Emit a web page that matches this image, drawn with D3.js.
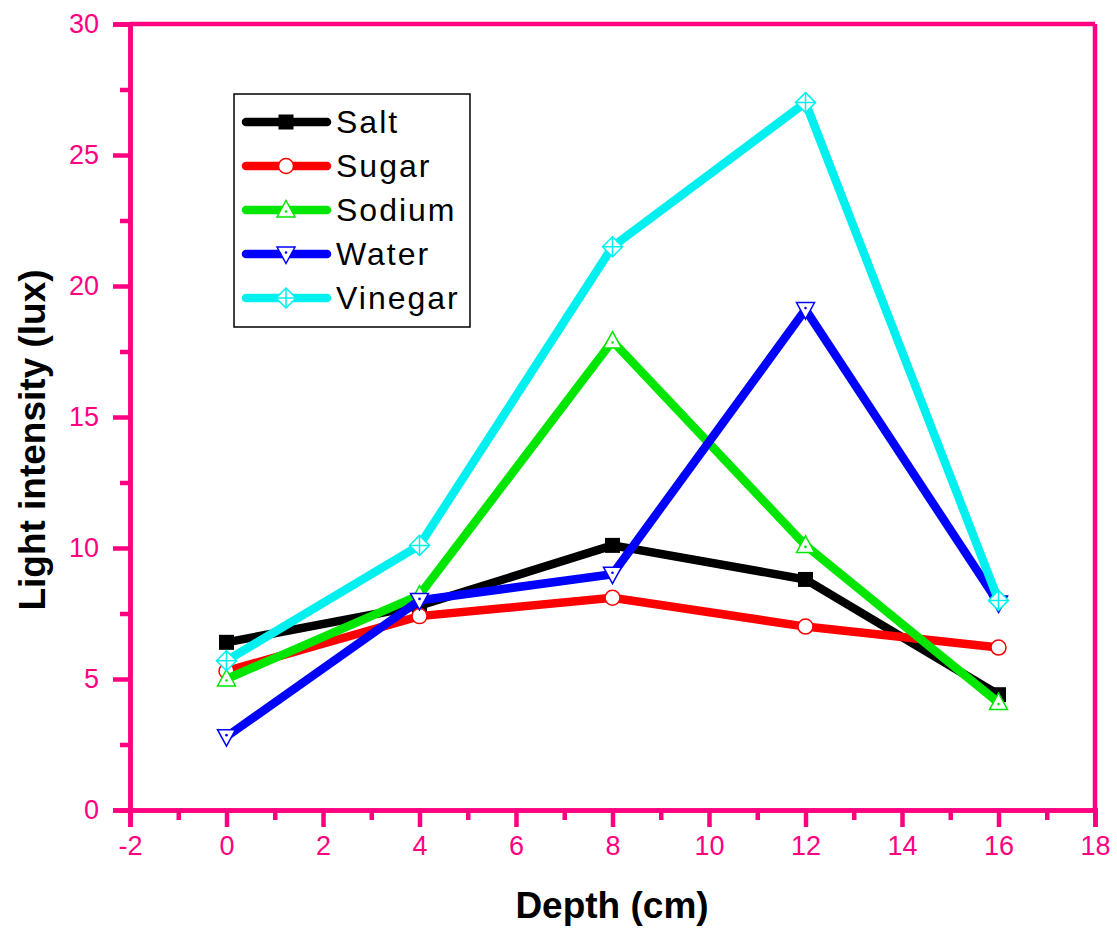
<!DOCTYPE html>
<html>
<head>
<meta charset="utf-8">
<script src="https://cdn.jsdelivr.net/npm/d3@7"></script>
<style>
  html, body { margin: 0; padding: 0; background: #fff; }
  svg { display: block; }
  text { font-family: Arial, "Liberation Sans", sans-serif; }
</style>
</head>
<body>
<svg id="chart" width="1117" height="928"></svg>
<script>
// Depth readings (cm)
const depths = [0, 4, 8, 12, 16];

// Light intensity (lux) per solution
const salt    = [6.4, 7.8, 10.1, 8.8, 4.4];
const sugar   = [5.3, 7.4, 8.1, 7.0, 6.2];
const sodium  = [5.0, 8.2, 17.9, 10.1, 4.1];
const water   = [2.8, 8.0, 9.0, 19.1, 7.9];
const vinegar = [5.7, 10.1, 21.5, 27.0, 8.0];

const seriesNames = ["Salt", "Sugar", "Sodium", "Water", "Vinegar"];
const seriesColors = ["#000000", "#ff0000", "#00e600", "#0000ff", "#00f0f0"];
const seriesMarkers = ["square", "circle", "triangleUp", "triangleDown", "crossDiamond"];

const xTickValues = [-2, 0, 2, 4, 6, 8, 10, 12, 14, 16, 18];
const yTickValues = [0, 5, 10, 15, 20, 25, 30];

const series = [salt, sugar, sodium, water, vinegar].map((vals, i) => ({
  name: seriesNames[i],
  color: seriesColors[i],
  marker: seriesMarkers[i],
  points: depths.map((d, j) => ({ x: d, y: vals[j] }))
}));

const axisColor = "#ff0080";
const svg = d3.select("#chart");

const plotLeft = 130, plotRight = 1095, plotTop = 24, plotBottom = 810;
const x = d3.scaleLinear().domain([-2, 18]).range([plotLeft, plotRight]);
const y = d3.scaleLinear().domain([0, 30]).range([plotBottom, plotTop]);

// Plain hyphen for negative numbers
const fmt = d => String(d);

// Frame: top and right edges
svg.append("line").attr("x1", plotLeft).attr("x2", plotRight).attr("y1", plotTop).attr("y2", plotTop)
  .attr("stroke", axisColor).attr("stroke-width", 4.5);
svg.append("line").attr("x1", plotRight).attr("x2", plotRight).attr("y1", plotTop).attr("y2", plotBottom)
  .attr("stroke", axisColor).attr("stroke-width", 4.5);

// Bottom axis with major and minor ticks
const xMinor = d3.range(-1, 18, 2);
const xAxisG = svg.append("g").attr("transform", `translate(0,${plotBottom})`);
xAxisG.call(d3.axisBottom(x).tickValues(xMinor).tickSize(10).tickFormat(""));
const xMajorG = svg.append("g").attr("transform", `translate(0,${plotBottom})`);
xMajorG.call(d3.axisBottom(x).tickValues(xTickValues).tickSize(17).tickPadding(8).tickFormat(fmt));

// Left axis with major and minor ticks
const yMinor = d3.range(2.5, 30, 5);
const yAxisG = svg.append("g").attr("transform", `translate(${plotLeft},0)`);
yAxisG.call(d3.axisLeft(y).tickValues(yMinor).tickSize(10).tickFormat(""));
const yMajorG = svg.append("g").attr("transform", `translate(${plotLeft},0)`);
yMajorG.call(d3.axisLeft(y).tickValues(yTickValues).tickSize(17).tickPadding(14).tickFormat(fmt));

[xAxisG, xMajorG, yAxisG, yMajorG].forEach(g => {
  g.select(".domain").attr("stroke", axisColor).attr("stroke-width", 4.5);
  g.selectAll(".tick line").attr("stroke", axisColor).attr("stroke-width", 4.5);
  g.selectAll(".tick text").attr("fill", axisColor).attr("font-size", 27)
    .attr("font-family", "Arial, 'Liberation Sans', sans-serif");
});
xMajorG.selectAll(".tick text").attr("dy", "0.75em");

// Axis titles
svg.append("text")
  .attr("x", 612).attr("y", 918)
  .attr("text-anchor", "middle")
  .attr("font-size", 37).attr("font-weight", "bold").attr("fill", "#000")
  .text("Depth (cm)");

svg.append("text")
  .attr("transform", "translate(45,440) rotate(-90)")
  .attr("text-anchor", "middle")
  .attr("font-size", 37).attr("font-weight", "bold").attr("fill", "#000")
  .text("Light intensity (lux)");

// Marker drawing
function drawMarker(g, type, color) {
  if (type === "square") {
    g.append("rect").attr("x", -7.5).attr("y", -7.5).attr("width", 15).attr("height", 15)
      .attr("fill", color);
  } else if (type === "circle") {
    g.append("circle").attr("r", 7.5).attr("fill", "#fff").attr("stroke", color).attr("stroke-width", 1.5);
  } else if (type === "triangleUp") {
    g.append("path").attr("d", "M0,-9.5 L9,7 L-9,7 Z")
      .attr("fill", "#fff").attr("stroke", color).attr("stroke-width", 1.5);
    g.append("circle").attr("r", 1.3).attr("cy", 1.5).attr("fill", color);
  } else if (type === "triangleDown") {
    g.append("path").attr("d", "M0,9.5 L9,-7 L-9,-7 Z")
      .attr("fill", "#fff").attr("stroke", color).attr("stroke-width", 1.5);
    g.append("circle").attr("r", 1.3).attr("cy", -1.5).attr("fill", color);
  } else if (type === "crossDiamond") {
    g.append("path").attr("d", "M0,-10 L10,0 L0,10 L-10,0 Z")
      .attr("fill", "#fff").attr("stroke", color).attr("stroke-width", 1.5);
    g.append("path").attr("d", "M0,-10 V10 M-10,0 H10")
      .attr("fill", "none").attr("stroke", color).attr("stroke-width", 1.5);
  }
}

// Series lines and markers
const line = d3.line().x(d => x(d.x)).y(d => y(d.y));
series.forEach(s => {
  const g = svg.append("g");
  g.append("path").datum(s.points)
    .attr("d", line)
    .attr("fill", "none")
    .attr("stroke", s.color)
    .attr("stroke-width", 8.5);
  s.points.forEach(p => {
    drawMarker(g.append("g").attr("transform", `translate(${x(p.x)},${y(p.y)})`), s.marker, s.color);
  });
});

// Legend
const legend = svg.append("g");
legend.append("rect").attr("x", 234).attr("y", 94).attr("width", 236).attr("height", 233)
  .attr("fill", "#fff").attr("stroke", "#000").attr("stroke-width", 1.5);
const rowY = [122, 166, 210, 254, 298];
series.forEach((s, i) => {
  const ry = rowY[i];
  legend.append("line").attr("x1", 246).attr("x2", 327).attr("y1", ry).attr("y2", ry)
    .attr("stroke", s.color).attr("stroke-width", 8.5).attr("stroke-linecap", "round");
  drawMarker(legend.append("g").attr("transform", `translate(286,${ry})`), s.marker, s.color);
  legend.append("text").attr("x", 336).attr("y", ry + 11)
    .attr("font-size", 32).attr("letter-spacing", 2).attr("fill", "#000")
    .text(s.name);
});
</script>
</body>
</html>
